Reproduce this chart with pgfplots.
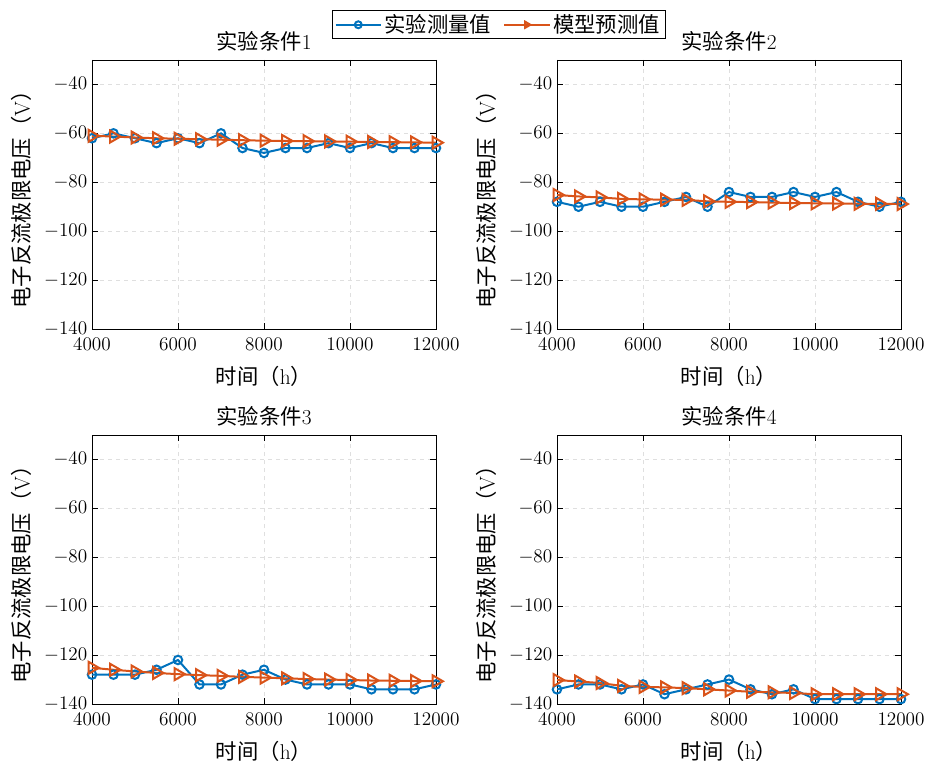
\documentclass[border=0pt]{standalone}
\usepackage{fontspec}
\newfontfamily\cjk{Noto Sans CJK SC}
\usepackage{pgfplots}
\usepackage{pgfplotstable}
\pgfplotsset{compat=1.18}

\definecolor{mblue}{rgb}{0,0.447,0.741}
\definecolor{morange}{rgb}{0.85,0.325,0.098}

% x: time (h); meas: measured; model: predicted
\pgfplotstableread{
x meas model
4000 -62 -61.0
4500 -60 -61.3
5000 -62 -61.7
5500 -64 -62.0
6000 -62 -62.2
6500 -64 -62.4
7000 -60 -62.6
7500 -66 -62.8
8000 -68 -63.0
8500 -66 -63.1
9000 -66 -63.2
9500 -64 -63.3
10000 -66 -63.4
10500 -64 -63.5
11000 -66 -63.6
11500 -66 -63.7
12000 -66 -63.8
}\dataA
\pgfplotstableread{
x meas model
4000 -88 -85.2
4500 -90 -85.8
5000 -88 -86.2
5500 -90 -86.8
6000 -90 -87.0
6500 -88 -87.1
7000 -86 -87.2
7500 -90 -87.8
8000 -84 -88.0
8500 -86 -88.1
9000 -86 -88.3
9500 -84 -88.5
10000 -86 -88.6
10500 -84 -88.7
11000 -88 -88.8
11500 -90 -88.8
12000 -88 -88.9
}\dataB
\pgfplotstableread{
x meas model
4000 -128 -125.2
4500 -128 -126.0
5000 -128 -126.7
5500 -126 -127.3
6000 -122 -127.8
6500 -132 -128.2
7000 -132 -128.5
7500 -128 -128.9
8000 -126 -129.2
8500 -130 -129.5
9000 -132 -129.8
9500 -132 -130.0
10000 -132 -130.2
10500 -134 -130.4
11000 -134 -130.5
11500 -134 -130.6
12000 -132 -130.7
}\dataC
\pgfplotstableread{
x meas model
4000 -134 -130.2
4500 -132 -130.8
5000 -132 -131.4
5500 -134 -132.6
6000 -132 -133.0
6500 -136 -133.2
7000 -134 -133.5
7500 -132 -134.0
8000 -130 -134.5
8500 -134 -135.0
9000 -136 -135.2
9500 -134 -135.5
10000 -138 -136.0
10500 -138 -136.0
11000 -138 -136.0
11500 -138 -136.0
12000 -138 -136.0
}\dataD

\pgfplotsset{
  panel/.style={
    scale only axis,
    width=258pt, height=201.75pt,
    xmin=4000, xmax=12000, ymin=-140, ymax=-30,
    xtick={4000,6000,...,12000},
    ytick={-140,-120,...,-40},
    scaled x ticks=false,
    x tick label style={/pgf/number format/1000 sep={}, yshift=-3pt},
    tick label style={font=\fontsize{15}{17}\selectfont},
    grid=major,
    major grid style={dashed, gray!25, line width=0.6pt},
    tick align=inside,
    tick style={black, line width=0.5pt},
    axis line style={line width=0.6pt},
    xlabel={{\cjk 时间（}h{\cjk ）}},
    ylabel={{\cjk 电子反流极限电压（}V{\cjk ）}},
    label style={font=\fontsize{16}{18}\selectfont},
    xlabel style={at={(axis description cs:0.5,-0.175)}, anchor=center},
    ylabel style={at={(axis description cs:-0.205,0.5)}, anchor=center},
    title style={font=\fontsize{16}{18}\selectfont,
      at={(axis description cs:0.5,1.04)}, anchor=center},
    anchor=south west,
  },
  meas/.style={mblue, line width=1.5pt, mark=o, mark size=3.2pt,
    mark options={line width=1.5pt}},
  model/.style={morange, line width=1.5pt, mark=triangle, mark size=5.2pt,
    mark options={line width=1.5pt, rotate=-90}},
}

\begin{document}
\begin{tikzpicture}
\path[use as bounding box] (0,0) rectangle (698.25pt,-571.5pt);
\begin{axis}[panel, at={(69pt,-246.75pt)}, title={{\cjk 实验条件}1},
  legend columns=2,
  legend image code/.code={%
    \draw[mark repeat=2, mark phase=2, #1, mark size=2.6pt]
      plot coordinates {(0pt,0pt) (17pt,0pt) (34pt,0pt)};},
  legend style={at={(axis description cs:1.182,1.131)}, anchor=center, draw=black,
    line width=0.6pt,
    font=\fontsize{16}{18}\selectfont\cjk, inner xsep=2pt, inner ysep=1pt,
    /tikz/every even column/.append style={column sep=7pt}},
  legend cell align=left]
  \addplot[meas] table[x=x, y=meas] {\dataA};
  \addlegendentry{实验测量值}
  \addplot[model] table[x=x, y=model] {\dataA};
  \addlegendentry{模型预测值}
\end{axis}
\begin{axis}[panel, at={(417.75pt,-246.75pt)}, title={{\cjk 实验条件}2}]
  \addplot[meas] table[x=x, y=meas] {\dataB};
  \addplot[model] table[x=x, y=model] {\dataB};
\end{axis}
\begin{axis}[panel, at={(69pt,-528pt)}, title={{\cjk 实验条件}3}]
  \addplot[meas] table[x=x, y=meas] {\dataC};
  \addplot[model] table[x=x, y=model] {\dataC};
\end{axis}
\begin{axis}[panel, at={(417.75pt,-528pt)}, title={{\cjk 实验条件}4}]
  \addplot[meas] table[x=x, y=meas] {\dataD};
  \addplot[model] table[x=x, y=model] {\dataD};
\end{axis}
\end{tikzpicture}
\end{document}
